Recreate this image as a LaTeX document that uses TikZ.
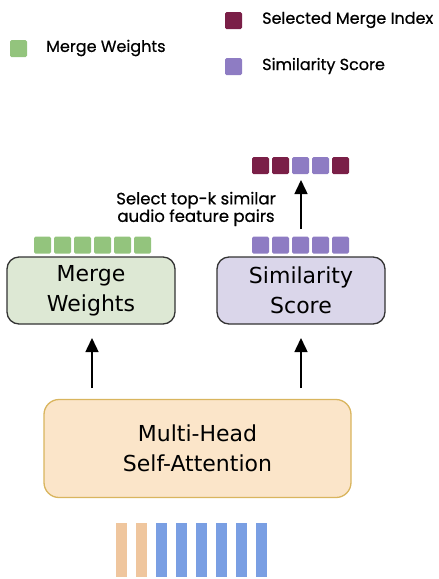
\documentclass[tikz,border=0pt]{standalone}
\usepackage{fontspec}
\setmainfont{DejaVu Sans}
\newfontfamily\handfont[FakeBold=0.6]{Poppins}
\usetikzlibrary{arrows.meta}
\definecolor{sqgreen}{HTML}{93C47D}
\definecolor{sqmaroon}{HTML}{7A1F47}
\definecolor{sqpurple}{HTML}{8E7CC3}
\definecolor{boxgreen}{HTML}{DDE8D4}
\definecolor{boxpurple}{HTML}{DAD6EA}
\definecolor{boxpeach}{HTML}{FBE5C9}
\definecolor{peachedge}{HTML}{D9B55E}
\definecolor{bartan}{HTML}{EFC69E}
\definecolor{barblue}{HTML}{7A9FE3}
\begin{document}
\begin{tikzpicture}[x=1pt,y=-1pt,
  sq/.style={minimum width=17pt,minimum height=17pt,inner sep=0pt,rounded corners=1.5pt},
  legtext/.style={font=\handfont\fontsize{16}{18}\selectfont,anchor=west,inner sep=0pt},
  blockbox/.style={draw=black!80,line width=1.3pt,rounded corners=12pt,inner sep=0pt,align=center,font=\fontsize{22}{30}\selectfont},
  uparrow/.style={line width=1.5pt,-{Triangle[width=13pt,length=14pt]}},
  bar/.style={minimum width=11pt,minimum height=54pt,inner sep=0pt}]
\useasboundingbox (0,0) rectangle (439,579);
% legend
\node[sq,fill=sqgreen] (lg) at (18.5,48.5) {};
\node[legtext] (lgt) at (46,48) {Merge Weights};
\node[sq,fill=sqmaroon] (lm) at (233.5,20.5) {};
\node[legtext] (lmt) at (262,20) {Selected Merge Index};
\node[sq,fill=sqpurple] (lp) at (233.5,66.5) {};
\node[legtext] (lpt) at (262,66) {Similarity Score};
% boxes
\node[blockbox,fill=boxgreen,minimum width=168pt,minimum height=67pt] (mw) at (91,290.5) {Merge\\Weights};
\node[blockbox,fill=boxpurple,minimum width=168pt,minimum height=67pt] (ss) at (301,290.5) {Similarity\\Score};
\node[blockbox,draw=peachedge,fill=boxpeach,rounded corners=15pt,minimum width=307pt,minimum height=98pt] (mh) at (197.5,448.5) {Multi-Head\\Self-Attention};
% squares above boxes
\foreach \i in {0,...,5} {\node[sq,fill=sqgreen] (g\i) at (42.5+20*\i,245) {};}
\foreach \i in {0,...,4} {\node[sq,fill=sqpurple] (p\i) at (260.5+20*\i,245) {};}
\foreach \i/\c in {0/sqmaroon,1/sqmaroon,2/sqpurple,3/sqpurple,4/sqmaroon} {\node[sq,fill=\c] (t\i) at (260.5+20*\i,165.5) {};}
% arrows
\coordinate (a1s) at (92,388); \coordinate (a1e) at (92,338);
\coordinate (a2s) at (301,388); \coordinate (a2e) at (301,338);
\coordinate (a3s) at (301,229); \coordinate (a3e) at (301,180);
\draw[uparrow] (a1s) -- (a1e);
\draw[uparrow] (a2s) -- (a2e);
\draw[uparrow] (a3s) -- (a3e);
\node[font=\handfont\fontsize{16.5}{17.5}\selectfont,align=center,inner sep=0pt] (sel) at (196,209) {Select top-k similar\\audio feature pairs};
% input bars
\foreach \i in {0,1} {\node[bar,fill=bartan] (b\i) at (121.5+20*\i,550) {};}
\foreach \i in {2,...,7} {\node[bar,fill=barblue] (b\i) at (121.5+20*\i,550) {};}
\end{tikzpicture}
\end{document}
